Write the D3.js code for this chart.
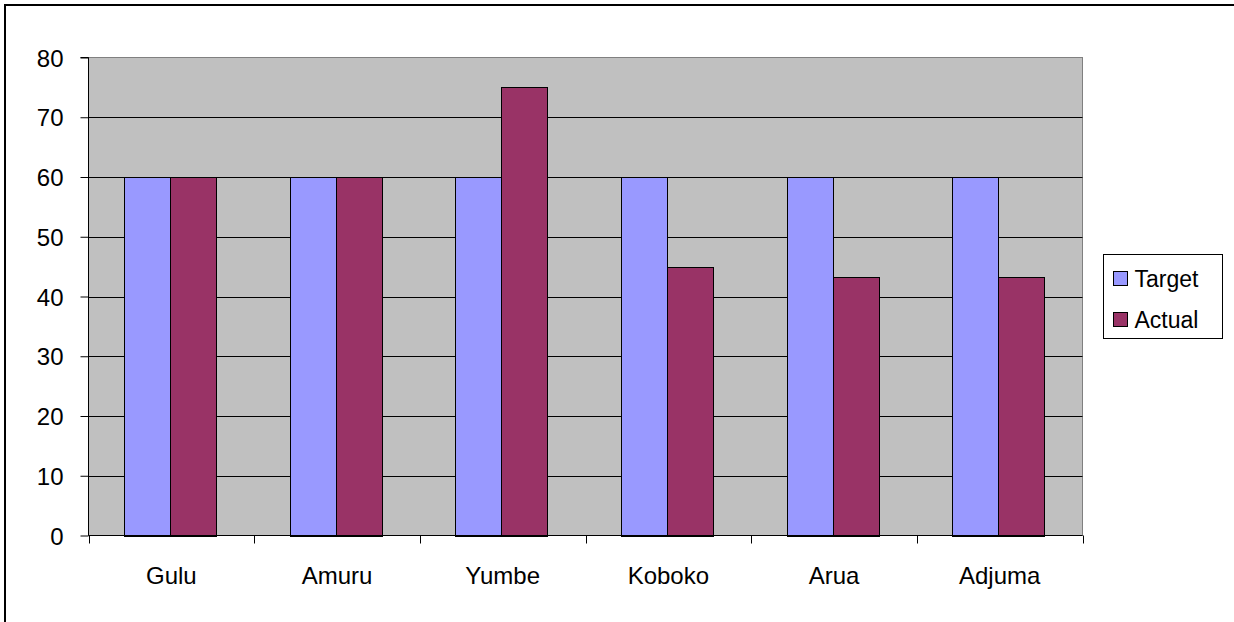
<!DOCTYPE html>
<html lang="en">
<head>
    <meta charset="UTF-8">
    <title>Target vs Actual</title>
    <style>
        body{ margin:0; background:#fff; }
        svg{ display:block; }
        text{ font-family: "Liberation Sans", Arial, sans-serif; fill:#000; }
        .grid line{ stroke:#000; stroke-width:1px; }
        .Target{ fill:#9999FF; stroke:#000; stroke-width:1px; }
        .Actual{ fill:#993366; stroke:#000; stroke-width:1px; }
    </style>
    <script src="https://cdn.jsdelivr.net/npm/d3@7"></script>
</head>
<body>
<svg id="main" width="1234" height="622"></svg>
<script>
    const categories = ["Gulu","Amuru","Yumbe","Koboko","Arua","Adjuma"]
    const seriesNames = ["Target","Actual"]
    const target = [60,60,60,60,60,60]
    const actual = [60,60,75,45,43.3,43.3]
    const yTicks = [0,10,20,30,40,50,60,70,80]

    const plot = {left:88.5, right:1082.5, top:57.5, bottom:535.5}
    const svg = d3.select("#main")

    // outer chart border (right and bottom run off the picture)
    svg.append("rect")
        .attr("x",5).attr("y",5).attr("width",1300).attr("height",700)
        .attr("fill","none").attr("stroke","#000").attr("stroke-width",2)

    const xScale = d3.scaleBand()
        .domain(categories)
        .range([plot.left,plot.right])
    const yScale = d3.scaleLinear()
        .domain([0,80])
        .range([plot.bottom,plot.top])

    // plot area
    svg.append("rect")
        .attr("x",plot.left).attr("y",plot.top)
        .attr("width",plot.right-plot.left).attr("height",plot.bottom-plot.top)
        .attr("fill","#C0C0C0").attr("stroke","#808080")

    svg.append("g").attr("class","grid")
        .selectAll("line")
        .data(yTicks.filter(d=>d>0 && d<80))
        .enter().append("line")
        .attr("x1",plot.left).attr("x2",plot.right)
        .attr("y1",d=>Math.round(yScale(d))+0.5).attr("y2",d=>Math.round(yScale(d))+0.5)

    // bars
    const bandW = xScale.bandwidth()
    const barW = 46
    const rows = []
    categories.forEach((c,i)=>{
        rows.push({cat:c, s:"Target", v:target[i], k:0})
        rows.push({cat:c, s:"Actual", v:actual[i], k:1})
    })
    svg.append("g")
        .selectAll("rect")
        .data(rows)
        .enter().append("rect")
        .attr("class",d=>d.s)
        .attr("x",d=>Math.round(xScale(d.cat)+bandW/2-barW+barW*d.k-1.5)+0.5)
        .attr("y",d=>Math.round(yScale(d.v))+0.5)
        .attr("width",barW)
        .attr("height",d=>Math.round(yScale(0))-Math.round(yScale(d.v)))

    // axes
    const yAxis = d3.axisLeft(yScale).tickValues(yTicks).tickSize(8).tickPadding(17)
    const gy = svg.append("g")
        .attr("transform",`translate(${plot.left},0)`)
        .call(yAxis)
    gy.select(".domain").attr("stroke","#000").attr("d",`M-8,${plot.top}H0V${plot.bottom}`)
    gy.selectAll("text").style("font-size","24px").attr("dy","0.36em")

    const xAxis = d3.axisBottom(xScale).tickSize(0).tickPadding(31)
    const gx = svg.append("g")
        .attr("transform",`translate(0,${plot.bottom})`)
        .call(xAxis)
    gx.select(".domain").attr("stroke","#000").attr("d",`M${plot.left},0H${plot.right}`)
    gx.selectAll("text").style("font-size","24px").attr("dy","0.71em")
    // category separator ticks
    gx.selectAll(".sep")
        .data(categories.concat(["end"]))
        .enter().append("line")
        .attr("x1",(d,i)=>Math.round(plot.left+bandW*i)+0.5).attr("x2",(d,i)=>Math.round(plot.left+bandW*i)+0.5)
        .attr("y1",0).attr("y2",8).attr("stroke","#000")

    // legend
    const legend = svg.append("g").attr("transform","translate(1103.5,254.5)")
    legend.append("rect")
        .attr("width",119).attr("height",84)
        .attr("fill","#fff").attr("stroke","#000")
    const items = legend.selectAll(".item")
        .data(seriesNames)
        .enter().append("g")
        .attr("transform",(d,i)=>`translate(0,${24+i*41})`)
    items.append("rect")
        .attr("class",d=>d)
        .attr("x",10).attr("y",-7).attr("width",14).attr("height",14)
    items.append("text")
        .attr("x",31).attr("y",8)
        .style("font-size","23px")
        .text(d=>d)
</script>
</body>
</html>
